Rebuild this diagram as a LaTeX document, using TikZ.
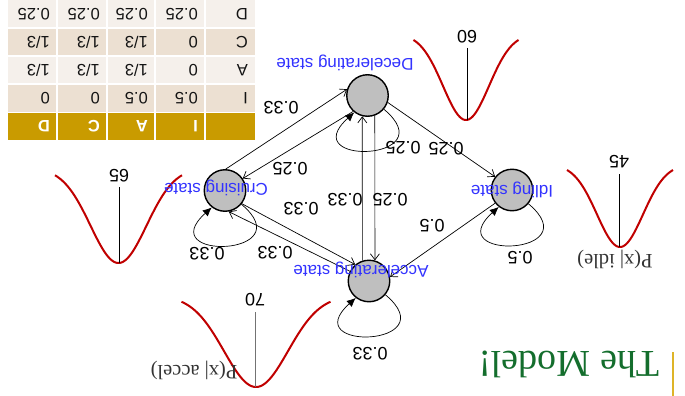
\documentclass[tikz,border=0pt]{standalone}
\usepackage{fontspec}
\setmainfont{Liberation Serif}
\newfontfamily\sansf{Liberation Sans}
\usetikzlibrary{arrows.meta}
\definecolor{stateblue}{RGB}{51,51,255}
\definecolor{stategray}{RGB}{191,191,191}
\definecolor{curvered}{RGB}{192,0,0}
\definecolor{headgold}{RGB}{201,155,0}
\definecolor{bandA}{RGB}{236,224,210}
\definecolor{bandB}{RGB}{245,240,235}
\definecolor{cellink}{RGB}{20,20,20}
\definecolor{titlegreen}{RGB}{20,110,45}
\definecolor{bargold}{RGB}{222,180,40}
\begin{document}
\begin{tikzpicture}[x=1pt,y=-1pt,
  state/.style={circle,draw=black,line width=1.4pt,fill=stategray,minimum size=41.5pt,inner sep=0pt},
  flip/.style={rotate=180,inner sep=0pt},
  statelabel/.style={flip,text=stateblue,font=\sansf\fontsize{17}{17}\selectfont},
  prob/.style={flip,font=\sansf\fontsize{18}{18}\selectfont},
  trans/.style={draw=black,line width=0.7pt,-{Straight Barb[length=6pt,width=9pt]}},
  selfloop/.style={draw=black,line width=0.7pt,-{Latex[length=9pt,width=8pt]}},
  bell/.style={draw=curvered,line width=2pt},
  meanline/.style={draw=black,line width=0.8pt},
  cell/.style={flip,anchor=west,font=\sansf\fontsize{16.5}{16.5}\selectfont,text=cellink},
  headcell/.style={cell,font=\sansf\bfseries\fontsize{16.5}{16.5}\selectfont,text=white},
  dens/.style={flip,font=\fontsize{20.5}{20.5}\selectfont,text=black!80}
]
\useasboundingbox (0,0) rectangle (685,396);

% ---- transition table ----
\fill[bandB] (8,0) rectangle (255,28);
\fill[bandA] (8,28) rectangle (255,56);
\fill[bandB] (8,56) rectangle (255,84);
\fill[bandA] (8,84) rectangle (255,112);
\fill[headgold] (8,113) rectangle (255,140);
\foreach \xx in {57,107,155,205} \draw[white,line width=1.5pt] (\xx,0) -- (\xx,140);
\foreach \yy in {28,56,84,112.5} \draw[white,line width=1.5pt] (8,\yy) -- (255,\yy);

\node[headcell] (hI) at (198,126.5) {I};
\node[headcell] (hA) at (148,126.5) {A};
\node[headcell] (hC) at (100,126.5) {C};
\node[headcell] (hD) at (50,126.5) {D};

\foreach \r/\yy/\lab/\vi/\va/\vc/\vd in {
    I/98/I/0.5/0.5/0/0,
    A/70/A/0/1\slash 3/1\slash 3/1\slash 3,
    C/42/C/0/1\slash 3/1\slash 3/1\slash 3,
    D/14/D/0.25/0.25/0.25/0.25}{
  \node[cell] (r\r-lab) at (248,\yy) {\lab};
  \node[cell] (r\r-I) at (198,\yy) {\vi};
  \node[cell] (r\r-A) at (148,\yy) {\va};
  \node[cell] (r\r-C) at (100,\yy) {\vc};
  \node[cell] (r\r-D) at (50,\yy) {\vd};
}

% ---- emission densities ----
\draw[bell] plot[domain=-63.5:63.5,samples=90,smooth] ({118.5+\x},{168+95*exp(-0.5*(\x/28)^2)});
\draw[meanline] (119,187) -- (119,263);
\node[prob] (m65) at (119,176) {65};

\draw[bell] plot[domain=-74.5:74.5,samples=90,smooth] ({256+\x},{295.7+91.3*exp(-0.5*(\x/32)^2)});
\draw[meanline,draw=black!55] (255,312) -- (255,387);
\node[prob] (m70) at (255,300) {70};
\node[dens] (pacc) at (194,370) {P(x| accel)};

\draw[bell] plot[domain=-52.5:52.5,samples=90,smooth] ({466+\x},{33.6+86.4*exp(-0.5*(\x/23)^2)});
\draw[meanline] (467,48) -- (467,120);
\node[prob] (m60) at (467,37) {60};

\draw[bell] plot[domain=-53:53,samples=90,smooth] ({620+\x},{164.2+82.8*exp(-0.5*(\x/23)^2)});
\draw[meanline] (619,174) -- (619,247);
\node[prob] (m45) at (619,162) {45};
\node[dens] (pidle) at (615,259) {P(x| idle)};

% ---- states ----
\node[state] (D) at (367.5,95.5) {};
\node[state] (C) at (225,190.5) {};
\node[state] (A) at (369,281) {};
\node[state] (I) at (512,190) {};

% ---- transitions ----
\draw[trans] (C.88) -- (D.163);
\draw[trans] (D.-132) -- (C.34);
\draw[trans] (C.-38) -- (A.130);
\draw[trans] (A.153) -- (C.-80);
\draw[trans] (A.108) -- (D.-104);
\draw[trans] (D.-70) -- (A.74);
\draw[trans] (D.-19) -- (I.142);
\draw[trans] (I.-142) -- (A.11);

% ---- self transitions ----
\foreach \s in {D,C,A,I}
  \draw[selfloop] (\s.-40) .. controls +(62,52) and +(-60,54) .. (\s.-128);

% ---- probabilities on the arcs ----
\node[prob] (pCD) at (281,108) {0.33};
\node[prob] (pDC) at (290,169) {0.25};
\node[prob] (pCA) at (301,209) {0.33};
\node[prob] (pAC) at (275,253) {0.33};
\node[prob] (pAD) at (345,200) {0.33};
\node[prob] (pDA) at (390,200) {0.25};
\node[prob] (pDD) at (403,148) {0.25};
\node[prob] (pDI) at (446,149) {0.25};
\node[prob] (pIA) at (432,226) {0.5};
\node[prob] (pII) at (520,258) {0.5};
\node[prob] (pCC) at (207,254) {0.33};
\node[prob] (pAA) at (370,354) {0.33};

% ---- state names ----
\node[statelabel] (lD) at (345,63) {Decelerating state};
\node[statelabel] (lC) at (216,188) {Cruising state};
\node[statelabel] (lA) at (361,270) {Accelerating state};
\node[statelabel] (lI) at (512,190) {Idling state};

% ---- title ----
\node[flip,text=titlegreen,font=\fontsize{38}{38}\selectfont] (title) at (569,364) {The Model!};
\draw[bargold,line width=2pt] (673,352) -- (673,396);
\end{tikzpicture}
\end{document}
